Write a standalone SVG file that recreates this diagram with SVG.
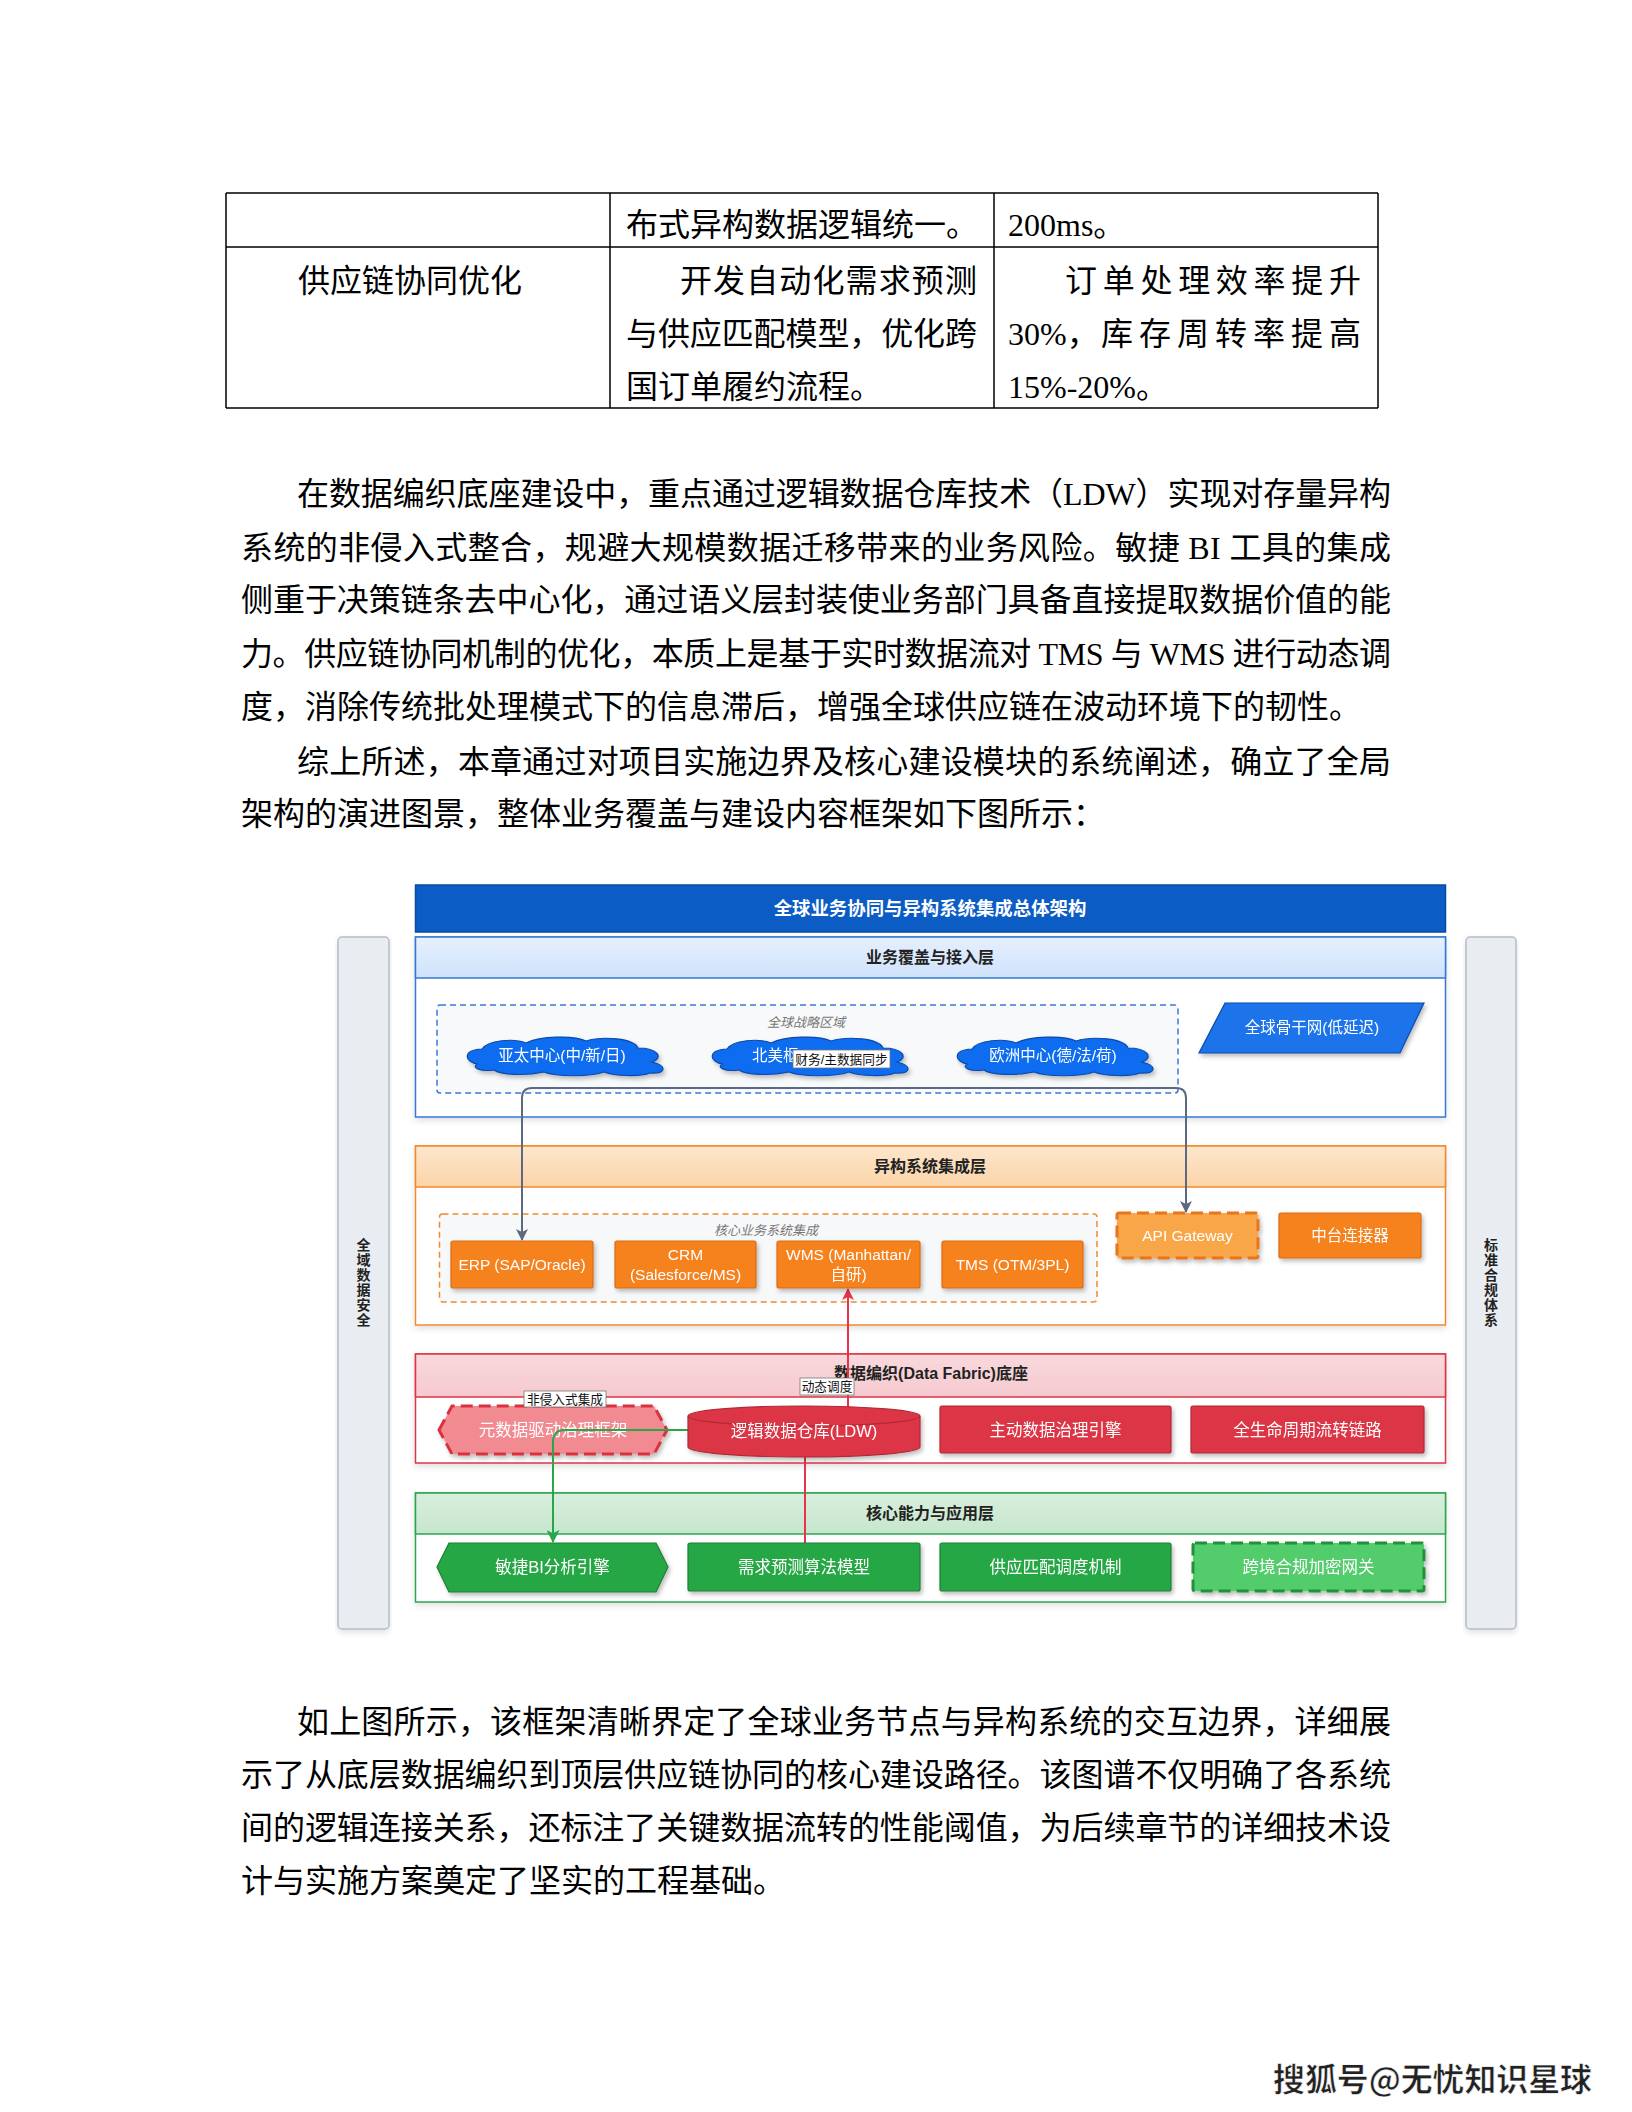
<svg xmlns="http://www.w3.org/2000/svg" width="1632" height="2112" viewBox="0 0 1632 2112">
<style>
.body{font-family:"Liberation Serif","Noto Sans CJK SC",serif;font-size:32px;fill:#000}
.dg{font-family:"Liberation Sans","Noto Sans CJK SC",sans-serif}
.tl{fill:none;stroke:#000;stroke-width:1.5}
.hdr{font-size:16px;font-weight:bold;fill:#222;text-anchor:middle}
.grp{font-size:13px;font-style:italic;fill:#777;text-anchor:middle}
.wt{font-size:15.5px;fill:#fff;text-anchor:middle}
.wb{font-size:16.5px;fill:#fff;text-anchor:middle}
.side{fill:#e9edf1;stroke:#b4bcc6;stroke-width:1.5}
.sidet{font-size:14px;font-weight:bold;fill:#222;text-anchor:middle}
.cloud{fill:#0b6cf0;stroke:#0d4aa8;stroke-width:1.2}
.org{fill:#f5821f;stroke:#dd6a12;stroke-width:1.2}
.red{fill:#dc3545;stroke:#b02a37;stroke-width:1.2}
.grn{fill:#28a745;stroke:#1e7e34;stroke-width:1.2}
.elab{fill:#fff;stroke:#777;stroke-width:0.8}
.elt{font-size:12.7px;fill:#111;text-anchor:middle}
.conn{fill:none;stroke-width:2}
</style>
<defs>
<linearGradient id="gBlue" x1="0" y1="0" x2="0" y2="1"><stop offset="0" stop-color="#e6f0fe"/><stop offset="1" stop-color="#cfe2fb"/></linearGradient>
<linearGradient id="gOrg" x1="0" y1="0" x2="0" y2="1"><stop offset="0" stop-color="#fde6cc"/><stop offset="1" stop-color="#fbd4a8"/></linearGradient>
<linearGradient id="gRed" x1="0" y1="0" x2="0" y2="1"><stop offset="0" stop-color="#f9d9dd"/><stop offset="1" stop-color="#f5c9cf"/></linearGradient>
<linearGradient id="gGrn" x1="0" y1="0" x2="0" y2="1"><stop offset="0" stop-color="#d8efdd"/><stop offset="1" stop-color="#c6e6cd"/></linearGradient>
<filter id="sh" x="-10%" y="-20%" width="130%" height="160%"><feDropShadow dx="2" dy="3" stdDeviation="2" flood-color="#000" flood-opacity="0.25"/></filter>
<filter id="shl" x="-5%" y="-10%" width="110%" height="130%"><feDropShadow dx="0" dy="3" stdDeviation="3" flood-color="#000" flood-opacity="0.12"/></filter>
<path id="cloudShape" d="M14,28 C0,26 -2,14 18,13 C24,4 50,2 62,7 C76,0 110,-1 122,5 C138,0 170,2 174,12 C194,12 200,22 188,26 C204,30 202,38 186,37 C176,41 150,40 140,36 C126,41 92,41 80,36 C62,40 36,39 30,34 C16,36 6,31 14,28 Z"/>
<marker id="arrGray" viewBox="0 0 12 12" refX="11" refY="6" markerWidth="12" markerHeight="12" markerUnits="userSpaceOnUse" orient="auto"><path d="M0,0 L12,6 L0,12 L3,6 z" fill="#5b6a7e"/></marker>
<marker id="arrRed" viewBox="0 0 12 12" refX="11" refY="6" markerWidth="12" markerHeight="12" markerUnits="userSpaceOnUse" orient="auto"><path d="M0,0 L12,6 L0,12 L3,6 z" fill="#e8334a"/></marker>
<marker id="arrGrn" viewBox="0 0 12 12" refX="11" refY="6" markerWidth="13" markerHeight="13" markerUnits="userSpaceOnUse" orient="auto"><path d="M0,0 L12,6 L0,12 L3,6 z" fill="#2aa64a"/></marker>
</defs>
<rect x="0" y="0" width="1632" height="2112" fill="#fff"/>

<!-- Table -->
<g id="table">
<path class="tl" d="M226,193 H1378 M226,247 H1378 M226,408 H1378 M226,193 V408 M610,193 V408 M994,193 V408 M1378,193 V408"/>
<text class="body" x="626" y="236">布式异构数据逻辑统一。</text>
<text class="body" x="1008" y="236">200ms。</text>
<text class="body" x="298" y="292">供应链协同优化</text>
<text class="body" x="680" y="292" textLength="297" lengthAdjust="spacing">开发自动化需求预测</text>
<text class="body" x="626" y="345" textLength="351" lengthAdjust="spacing">与供应匹配模型，优化跨</text>
<text class="body" x="626" y="398">国订单履约流程。</text>
<text class="body" x="1065" y="292" textLength="296" lengthAdjust="spacing">订单处理效率提升</text>
<text class="body" x="1008" y="345">30%，<tspan x="1101" textLength="260" lengthAdjust="spacing">库存周转率提高</tspan></text>
<text class="body" x="1008" y="398">15%-20%。</text>
</g>

<!-- Paragraphs -->
<g id="para1">
<text class="body" x="297" y="505" textLength="1094" lengthAdjust="spacing">在数据编织底座建设中，重点通过逻辑数据仓库技术（LDW）实现对存量异构</text>
<text class="body" x="241" y="559" textLength="1150" lengthAdjust="spacing">系统的非侵入式整合，规避大规模数据迁移带来的业务风险。敏捷 BI 工具的集成</text>
<text class="body" x="241" y="611" textLength="1150" lengthAdjust="spacing">侧重于决策链条去中心化，通过语义层封装使业务部门具备直接提取数据价值的能</text>
<text class="body" x="241" y="665" textLength="1150" lengthAdjust="spacing">力。供应链协同机制的优化，本质上是基于实时数据流对 TMS 与 WMS 进行动态调</text>
<text class="body" x="241" y="718">度，消除传统批处理模式下的信息滞后，增强全球供应链在波动环境下的韧性。</text>
<text class="body" x="297" y="773" textLength="1094" lengthAdjust="spacing">综上所述，本章通过对项目实施边界及核心建设模块的系统阐述，确立了全局</text>
<text class="body" x="241" y="825">架构的演进图景，整体业务覆盖与建设内容框架如下图所示：</text>
</g>

<!-- Diagram -->
<g id="diagram" class="dg">
<g id="title">
<rect x="415.5" y="885" width="1030" height="47" fill="#0b5cc5" stroke="#0a4aa0" stroke-width="1.5"/>
<text x="930" y="915" font-size="18.4" font-weight="bold" fill="#fff" text-anchor="middle">全球业务协同与异构系统集成总体架构</text>
</g>
<g id="side-left">
<rect class="side" x="338" y="937" width="51" height="692" rx="4" filter="url(#shl)"/>
<text class="sidet" x="363.5" y="1250"><tspan x="363.5" y="1250">全</tspan><tspan x="363.5" y="1265">域</tspan><tspan x="363.5" y="1280">数</tspan><tspan x="363.5" y="1295">据</tspan><tspan x="363.5" y="1310">安</tspan><tspan x="363.5" y="1325">全</tspan></text>
</g>
<g id="side-right">
<rect class="side" x="1466" y="937" width="50" height="692" rx="4" filter="url(#shl)"/>
<text class="sidet" x="1491" y="1250"><tspan x="1491" y="1250">标</tspan><tspan x="1491" y="1265">准</tspan><tspan x="1491" y="1280">合</tspan><tspan x="1491" y="1295">规</tspan><tspan x="1491" y="1310">体</tspan><tspan x="1491" y="1325">系</tspan></text>
</g>

<g id="layer-access">
<rect x="415.5" y="937" width="1030" height="180" fill="#fff" stroke="#3578d8" stroke-width="1.5" filter="url(#shl)"/>
<rect x="415.5" y="937" width="1030" height="41" fill="url(#gBlue)" stroke="#3578d8" stroke-width="1.5"/>
<text class="hdr" x="930" y="963">业务覆盖与接入层</text>
</g>
<g id="layer-integration">
<rect x="415.5" y="1146" width="1030" height="179" fill="#fff" stroke="#f08a2c" stroke-width="1.5" filter="url(#shl)"/>
<rect x="415.5" y="1146" width="1030" height="41" fill="url(#gOrg)" stroke="#f08a2c" stroke-width="1.5"/>
<text class="hdr" x="930" y="1172">异构系统集成层</text>
</g>
<g id="layer-fabric">
<rect x="415.5" y="1354" width="1030" height="109" fill="#fff" stroke="#dc3545" stroke-width="1.5" filter="url(#shl)"/>
<rect x="415.5" y="1354" width="1030" height="43" fill="url(#gRed)" stroke="#dc3545" stroke-width="1.5"/>
<text class="hdr" x="931" y="1379">数据编织(Data Fabric)底座</text>
</g>
<g id="layer-app">
<rect x="415.5" y="1493" width="1030" height="109" fill="#fff" stroke="#2ea44f" stroke-width="1.5" filter="url(#shl)"/>
<rect x="415.5" y="1493" width="1030" height="41" fill="url(#gGrn)" stroke="#2ea44f" stroke-width="1.5"/>
<text class="hdr" x="930" y="1519">核心能力与应用层</text>
</g>

<g id="group-regions">
<rect x="437" y="1005" width="741" height="88" rx="3" fill="#f8f9fb" stroke="#3b78d6" stroke-width="1.5" stroke-dasharray="6 4"/>
<text class="grp" x="806" y="1027">全球战略区域</text>
</g>
<g id="group-core">
<rect x="439.5" y="1214" width="657.5" height="88" rx="3" fill="#f7f8fa" stroke="#f08a2c" stroke-width="1.5" stroke-dasharray="6 4"/>
<text class="grp" x="766" y="1235">核心业务系统集成</text>
</g>

<g id="node-metadata" filter="url(#sh)">
<polygon points="439,1430 452,1406 654,1406 667,1430 654,1454 452,1454" fill="#f28b91" stroke="#d9303e" stroke-width="3" stroke-dasharray="12 6"/>
<text class="wb" x="553" y="1436">元数据驱动治理框架</text>
</g>

<g id="connectors">
<path class="conn" stroke="#5b6a7e" d="M856,1088 H532 Q522,1088 522,1098 V1240" marker-end="url(#arrGray)"/>
<path class="conn" stroke="#5b6a7e" d="M856,1088 H1176 Q1186,1088 1186,1098 V1212" marker-end="url(#arrGray)"/>
<path class="conn" stroke="#e8334a" d="M805,1543 V1430 H848 V1289" marker-end="url(#arrRed)"/>
<path class="conn" stroke="#2aa64a" stroke-width="3" d="M688,1430 H565 Q553,1430 553,1442 V1542" marker-end="url(#arrGrn)"/>
</g>

<g id="node-apac" filter="url(#sh)">
<use href="#cloudShape" class="cloud" transform="translate(464,1036)"/>
<text class="wt" x="562" y="1061">亚太中心(中/新/日)</text>
</g>
<g id="node-na" filter="url(#sh)">
<use href="#cloudShape" class="cloud" transform="translate(709,1036)"/>
<text x="752" y="1061" font-size="15.5" fill="#fff">北美枢</text>
</g>
<g id="node-eu" filter="url(#sh)">
<use href="#cloudShape" class="cloud" transform="translate(954,1036)"/>
<text class="wt" x="1053" y="1061">欧洲中心(德/法/荷)</text>
</g>
<g id="node-backbone" filter="url(#sh)">
<polygon points="1225,1003 1424,1003 1400,1053 1199,1053" fill="#1a73ea" stroke="#0d4aa8" stroke-width="1.2"/>
<text class="wt" x="1312" y="1033">全球骨干网(低延迟)</text>
</g>

<g id="node-erp" filter="url(#sh)">
<rect class="org" x="451" y="1241" width="142" height="47" rx="2"/>
<text class="wt" x="522" y="1270">ERP (SAP/Oracle)</text>
</g>
<g id="node-crm" filter="url(#sh)">
<rect class="org" x="615" y="1241" width="141" height="47" rx="2"/>
<text class="wt" x="685.5" y="1260">CRM</text>
<text class="wt" x="685.5" y="1280">(Salesforce/MS)</text>
</g>
<g id="node-wms" filter="url(#sh)">
<rect class="org" x="777" y="1241" width="143" height="47" rx="2"/>
<text class="wt" x="848.5" y="1260">WMS (Manhattan/</text>
<text class="wt" x="848.5" y="1280">自研)</text>
</g>
<g id="node-tms" filter="url(#sh)">
<rect class="org" x="942" y="1241" width="141" height="47" rx="2"/>
<text class="wt" x="1012.5" y="1270">TMS (OTM/3PL)</text>
</g>
<g id="node-api" filter="url(#sh)">
<rect x="1117" y="1213" width="141" height="45" rx="2" fill="#f9a64a" stroke="#e8741a" stroke-width="3" stroke-dasharray="12 6"/>
<text class="wt" x="1187.5" y="1241">API Gateway</text>
</g>
<g id="node-midconn" filter="url(#sh)">
<rect class="org" x="1279" y="1213" width="142" height="45" rx="2"/>
<text class="wt" x="1350" y="1241">中台连接器</text>
</g>

<g id="node-ldw" filter="url(#sh)">
<path class="red" d="M688,1416 A116,10 0 0 1 920,1416 V1447 A116,10 0 0 1 688,1447 Z"/>
<path d="M688,1416 A116,10 0 0 0 920,1416" fill="none" stroke="#b02a37" stroke-width="1.2"/>
<text class="wb" x="804" y="1437">逻辑数据仓库(LDW)</text>
</g>
<g id="node-governance" filter="url(#sh)">
<rect class="red" x="940" y="1406" width="231" height="47" rx="2"/>
<text class="wb" x="1055.5" y="1436">主动数据治理引擎</text>
</g>
<g id="node-lifecycle" filter="url(#sh)">
<rect class="red" x="1191" y="1406" width="233" height="47" rx="2"/>
<text class="wb" x="1307.5" y="1436">全生命周期流转链路</text>
</g>

<g id="node-bi" filter="url(#sh)">
<polygon class="grn" points="437,1567 449,1543 656,1543 668,1567 656,1592 449,1592"/>
<text class="wb" x="552.5" y="1573">敏捷BI分析引擎</text>
</g>
<g id="node-forecast" filter="url(#sh)">
<rect class="grn" x="688" y="1543" width="232" height="48" rx="2"/>
<text class="wb" x="804" y="1573">需求预测算法模型</text>
</g>
<g id="node-match" filter="url(#sh)">
<rect class="grn" x="940" y="1543" width="231" height="48" rx="2"/>
<text class="wb" x="1055.5" y="1573">供应匹配调度机制</text>
</g>
<g id="node-compliance" filter="url(#sh)">
<rect x="1193" y="1543" width="231" height="48" rx="2" fill="#52cc6c" stroke="#23903c" stroke-width="3" stroke-dasharray="12 6"/>
<text class="wb" x="1308.5" y="1573">跨境合规加密网关</text>
</g>

<g id="edge-labels">
<rect class="elab" x="793" y="1050" width="97" height="18"/>
<text class="elt" x="841.5" y="1064">财务/主数据同步</text>
<rect class="elab" x="800" y="1378" width="54" height="17"/>
<text class="elt" x="827" y="1391">动态调度</text>
<rect class="elab" x="524" y="1391" width="82" height="16"/>
<text class="elt" x="565" y="1404">非侵入式集成</text>
</g>
</g>

<!-- Bottom paragraph -->
<g id="para2">
<text class="body" x="297" y="1733" textLength="1094" lengthAdjust="spacing">如上图所示，该框架清晰界定了全球业务节点与异构系统的交互边界，详细展</text>
<text class="body" x="241" y="1786" textLength="1150" lengthAdjust="spacing">示了从底层数据编织到顶层供应链协同的核心建设路径。该图谱不仅明确了各系统</text>
<text class="body" x="241" y="1839" textLength="1150" lengthAdjust="spacing">间的逻辑连接关系，还标注了关键数据流转的性能阈值，为后续章节的详细技术设</text>
<text class="body" x="241" y="1892">计与实施方案奠定了坚实的工程基础。</text>
</g>

<g id="footer">
<text x="1273" y="2091" font-family="Noto Sans CJK SC,sans-serif" font-size="32" font-weight="bold" fill="#222" stroke="#fff" stroke-width="0.6" textLength="319" lengthAdjust="spacingAndGlyphs">搜狐号@无忧知识星球</text>
</g>
</svg>
